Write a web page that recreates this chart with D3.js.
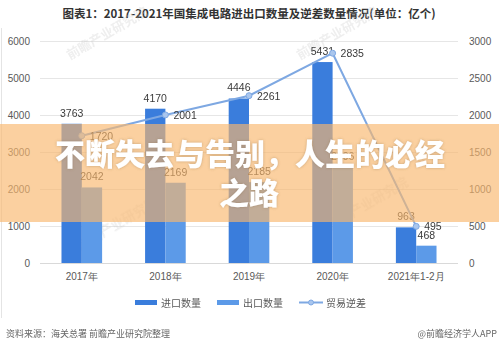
<!DOCTYPE html>
<html>
<head>
<meta charset="utf-8">
<script src="https://cdn.jsdelivr.net/npm/d3@7"></script>
<style>
  html, body { margin: 0; padding: 0; background: #fff; }
  svg { display: block; font-family: "Noto Sans CJK SC", "Noto Sans", sans-serif; }
</style>
</head>
<body>
<script>
const categories = ["2017年", "2018年", "2019年", "2020年", "2021年1-2月"];
const importValues = [3763, 4170, 4446, 5431, 963];
const exportValues = [2042, 2169, 2185, 2596, 468];
const deficitValues = [1720, 2001, 2261, 2835, 495];
const leftTicks = [0, 1000, 2000, 3000, 4000, 5000, 6000];
const rightTicks = [0, 500, 1000, 1500, 2000, 2500, 3000];
const seriesNames = ["进口数量", "出口数量", "贸易逆差"];
const titleText = "图表1：2017-2021年国集成电路进出口数量及逆差数量情况(单位：亿个)";
const sourceText = "资料来源：海关总署 前瞻产业研究院整理";
const creditText = "@前瞻经济学人APP";
const bannerLines = ["不断失去与告别，人生的必经", "之路"];

const W = 499, H = 348;
const colImport = "#3a7ddc", colExport = "#5c9ae8", colLine = "#7ea8e2";
const textCol = "#595959";

const svg = d3.select("body").append("svg").attr("width", W).attr("height", H);

const plotL = 40, plotR = 458, plotT = 41, plotB = 263;

const x0 = d3.scaleBand().domain(categories).range([plotL, plotR]).paddingInner(0.514).paddingOuter(0.257);
const x1 = d3.scaleBand().domain(["import", "export"]).range([0, x0.bandwidth()]);
const yL = d3.scaleLinear().domain([0, 6000]).range([plotB, plotT]);
const yR = d3.scaleLinear().domain([0, 3000]).range([plotB, plotT]);

// frame line on left
svg.append("line").attr("x1", 1.5).attr("x2", 1.5).attr("y1", 28).attr("y2", 318)
  .attr("stroke", "#e4e4e4").attr("stroke-width", 1);

// title
svg.append("text").attr("x", 249).attr("y", 18).attr("text-anchor", "middle")
  .attr("font-size", 11.5).attr("font-weight", "bold").attr("fill", "#333").text(titleText);

// gridlines
svg.append("g").selectAll("line").data(leftTicks).join("line")
  .attr("x1", plotL).attr("x2", plotR)
  .attr("y1", d => yL(d) + 0.5).attr("y2", d => yL(d) + 0.5)
  .attr("stroke", d => d === 0 ? "#d9d9d9" : "#e6e6e6").attr("stroke-width", 1);

// left axis
const axL = svg.append("g").attr("transform", `translate(${plotL - 10},0)`)
  .call(d3.axisLeft(yL).tickValues(leftTicks).tickSize(0).tickPadding(0).tickFormat(d3.format("d")));
axL.select(".domain").remove();
axL.selectAll("text").attr("fill", textCol).attr("font-size", 10).attr("font-family", "Liberation Sans, Arial, sans-serif");

// right axis
const axR = svg.append("g").attr("transform", `translate(${plotR + 11},0)`)
  .call(d3.axisRight(yR).tickValues(rightTicks).tickSize(0).tickPadding(0).tickFormat(d3.format("d")));
axR.select(".domain").remove();
axR.selectAll("text").attr("fill", textCol).attr("font-size", 10).attr("font-family", "Liberation Sans, Arial, sans-serif");

// x axis labels
const axX = svg.append("g").attr("transform", `translate(0,${plotB + 8})`)
  .call(d3.axisBottom(x0).tickSize(0).tickPadding(0));
axX.select(".domain").remove();
axX.selectAll("text").attr("fill", textCol).attr("font-size", 10).attr("dy", "0.9em");

// watermarks
const wm = svg.append("g").attr("fill", "#c8c8c8").attr("opacity", 0.3).attr("font-size", 13).attr("font-weight", "bold");
[[70, 60], [300, 60], [80, 250], [330, 230]].forEach(([x, y]) => {
  wm.append("text").attr("x", x).attr("y", y).attr("transform", `rotate(-30,${x},${y})`).text("前瞻产业研究院");
});

// bars
const rows = categories.map((c, i) => ({ c, imp: importValues[i], exp: exportValues[i], def: deficitValues[i] }));
const gBars = svg.append("g");
gBars.selectAll("rect.imp").data(rows).join("rect").attr("class", "imp")
  .attr("x", d => x0(d.c) + x1("import")).attr("width", x1.bandwidth())
  .attr("y", d => yL(d.imp)).attr("height", d => yL(0) - yL(d.imp)).attr("fill", colImport);
gBars.selectAll("rect.exp").data(rows).join("rect").attr("class", "exp")
  .attr("x", d => x0(d.c) + x1("export")).attr("width", x1.bandwidth())
  .attr("y", d => yL(d.exp)).attr("height", d => yL(0) - yL(d.exp)).attr("fill", colExport);

// bar labels
const lblFont = "Liberation Sans, Arial, sans-serif";
gBars.selectAll("text.imp").data(rows).join("text")
  .attr("x", d => x0(d.c) + x1("import") + x1.bandwidth() / 2).attr("y", d => yL(d.imp) - 7)
  .attr("text-anchor", "middle").attr("font-size", 10.5).attr("font-family", lblFont).attr("fill", "#3a3a3a").text(d => d.imp);
gBars.selectAll("text.exp").data(rows).join("text")
  .attr("x", d => x0(d.c) + x1("export") + x1.bandwidth() / 2).attr("y", d => yL(d.exp) - 7)
  .attr("text-anchor", "middle").attr("font-size", 10.5).attr("font-family", lblFont).attr("fill", "#3a3a3a").text(d => d.exp);

// line
const cx = d => x0(d.c) + x0.bandwidth() / 2;
const line = d3.line().x(cx).y(d => yR(d.def));
svg.append("path").datum(rows).attr("d", line).attr("fill", "none").attr("stroke", colLine).attr("stroke-width", 2);
svg.append("g").selectAll("circle").data(rows).join("circle")
  .attr("cx", cx).attr("cy", d => yR(d.def)).attr("r", 3).attr("fill", "#a9c6ee").attr("stroke", colLine).attr("stroke-width", 1);
svg.append("g").selectAll("text").data(rows).join("text")
  .attr("x", d => cx(d) + 8).attr("y", d => yR(d.def) + 4)
  .attr("font-size", 10.5).attr("font-family", lblFont).attr("fill", "#3a3a3a").text(d => d.def);

// legend
const lg = svg.append("g").attr("font-size", 10).attr("fill", textCol);
const legX = [135, 217, 299];
lg.append("rect").attr("x", legX[0]).attr("y", 300).attr("width", 22).attr("height", 5).attr("fill", colImport);
lg.append("text").attr("x", legX[0] + 26).attr("y", 306.5).text(seriesNames[0]);
lg.append("rect").attr("x", legX[1]).attr("y", 300).attr("width", 22).attr("height", 5).attr("fill", colExport);
lg.append("text").attr("x", legX[1] + 26).attr("y", 306.5).text(seriesNames[1]);
lg.append("line").attr("x1", legX[2]).attr("x2", legX[2] + 24).attr("y1", 302.5).attr("y2", 302.5).attr("stroke", colLine).attr("stroke-width", 2);
lg.append("circle").attr("cx", legX[2] + 12).attr("cy", 302.5).attr("r", 2.5).attr("fill", "#a9c6ee").attr("stroke", colLine);
lg.append("text").attr("x", legX[2] + 27).attr("y", 306.5).text(seriesNames[2]);

// footer
svg.append("text").attr("x", 6).attr("y", 337).attr("font-size", 9).attr("fill", "#666").text(sourceText);
svg.append("text").attr("x", 497).attr("y", 337).attr("text-anchor", "end").attr("font-size", 9).attr("fill", "#666").text(creditText);

// banner overlay
svg.append("rect").attr("x", 0).attr("y", 124).attr("width", W).attr("height", 98)
  .attr("fill", "rgb(249,183,109)").attr("opacity", 0.65);
const defs = svg.append("defs");
const f = defs.append("filter").attr("id", "sh").attr("x", "-10%").attr("y", "-30%").attr("width", "120%").attr("height", "160%");
f.append("feDropShadow").attr("dx", 0).attr("dy", 0).attr("stdDeviation", 1.5).attr("flood-color", "#8a6a40").attr("flood-opacity", 0.45);
const bt = svg.append("g").attr("filter", "url(#sh)").attr("font-size", 30).attr("font-weight", 900)
  .attr("fill", "#fff").attr("text-anchor", "middle");
bt.append("text").attr("x", 250).attr("y", 165).text(bannerLines[0]);
bt.append("text").attr("x", 249).attr("y", 204).text(bannerLines[1]);
</script>
</body>
</html>
